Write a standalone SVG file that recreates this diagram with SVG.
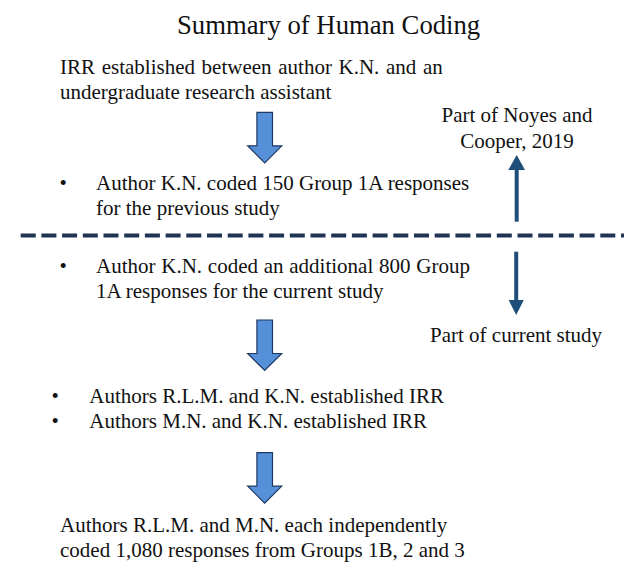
<svg xmlns="http://www.w3.org/2000/svg" width="624" height="564" viewBox="0 0 624 564">
<style>
text{font-family:"Liberation Serif","Times New Roman",serif;font-size:21px;fill:#111}
.title{font-size:26.7px}
.mid{text-anchor:middle}
.big{fill:#5590d8;stroke:#1f3864;stroke-width:1.2;stroke-linejoin:miter}
.thin{stroke:#1f4e79;stroke-width:4;fill:none}
.thinhead{fill:#1f4e79}
</style>
<defs>
<path id="bigArrow" d="M-7.8,0 H7.8 V33.5 H17 L0,50.5 L-17,33.5 H-7.8 Z"/>
</defs>
<rect width="624" height="564" fill="#fff"/>
<g id="title"><text class="title" x="177" y="34">Summary of Human Coding</text></g>
<g id="node-irr">
<text x="60" y="74" word-spacing="1.4">IRR established between author K.N. and an</text>
<text x="60" y="99">undergraduate research assistant</text>
</g>
<g id="node-prev">
<text x="59.5" y="189.5">•</text>
<text x="96" y="189.5">Author K.N. coded 150 Group 1A responses</text>
<text x="96" y="215">for the previous study</text>
</g>
<g id="label-noyes">
<text class="mid" x="517" y="121.7">Part of Noyes and</text>
<text class="mid" x="517" y="147.7">Cooper, 2019</text>
</g>
<g id="node-current">
<text x="59.5" y="272.7">•</text>
<text x="96" y="272.7" word-spacing="0.5">Author K.N. coded an additional 800 Group</text>
<text x="96" y="298">1A responses for the current study</text>
</g>
<g id="label-current"><text x="430" y="341.7">Part of current study</text></g>
<g id="node-irr2">
<text x="51.5" y="403.3">•</text>
<text x="89.3" y="403.3">Authors R.L.M. and K.N. established IRR</text>
<text x="51.5" y="428.3">•</text>
<text x="89.3" y="428.3">Authors M.N. and K.N. established IRR</text>
</g>
<g id="node-final">
<text x="60" y="531.7">Authors R.L.M. and M.N. each independently</text>
<text x="60" y="556.7">coded 1,080 responses from Groups 1B, 2 and 3</text>
</g>
<g id="connectors">
<line x1="20.7" y1="235.5" x2="624" y2="235.5" stroke="#1f3354" stroke-width="4" stroke-dasharray="15 5.7"/>
<use href="#bigArrow" class="big" x="264.7" y="112.3"/>
<use href="#bigArrow" class="big" x="264.7" y="320"/>
<use href="#bigArrow" class="big" x="264.7" y="452.7"/>
<line class="thin" x1="516.7" y1="221.7" x2="516.7" y2="168"/>
<polygon class="thinhead" points="508.3,170 525,170 516.7,155"/>
<line class="thin" x1="516.2" y1="251.7" x2="516.2" y2="302"/>
<polygon class="thinhead" points="508.6,300 523.8,300 516.2,315"/>
</g>
</svg>
